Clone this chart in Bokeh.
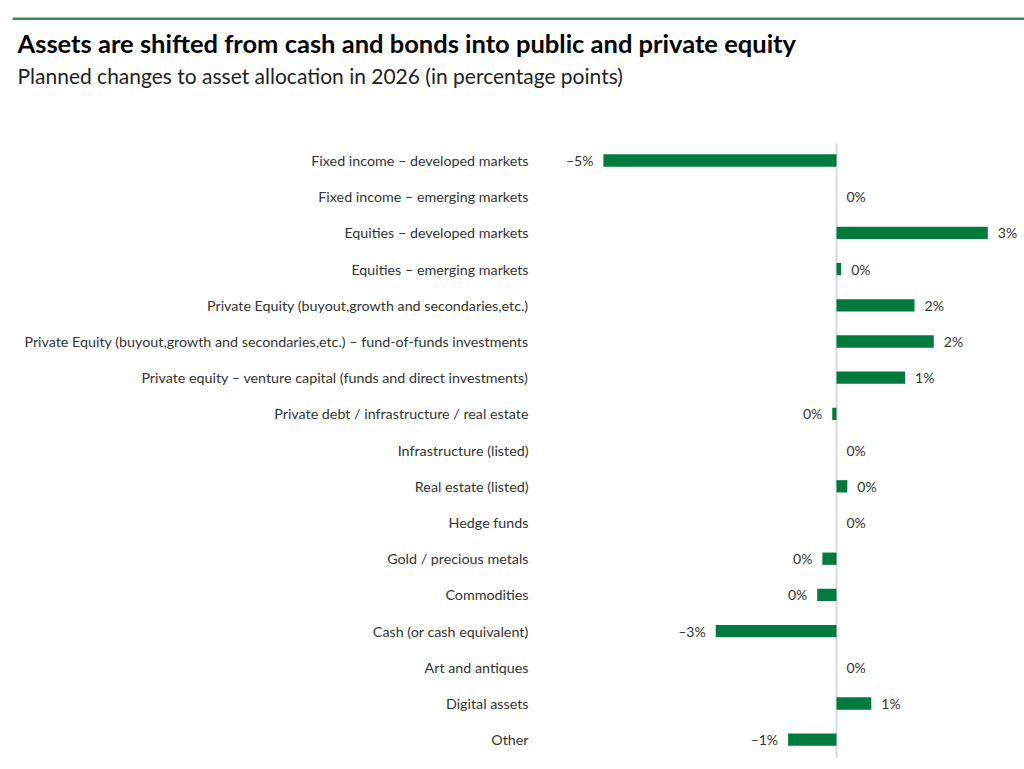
from bokeh.plotting import figure
from bokeh.models import BoxAnnotation, ColumnDataSource, Range1d, Label
from bokeh.embed import file_html
from bokeh.resources import INLINE
from bokeh.core.properties import value

categories = [
    "Fixed income – developed markets",
    "Fixed income – emerging markets",
    "Equities – developed markets",
    "Equities – emerging markets",
    "Private Equity (buyout,growth and secondaries,etc.)",
    "Private Equity (buyout,growth and secondaries,etc.) – fund-of-funds investments",
    "Private equity – venture capital (funds and direct investments)",
    "Private debt / infrastructure / real estate",
    "Infrastructure (listed)",
    "Real estate (listed)",
    "Hedge funds",
    "Gold / precious metals",
    "Commodities",
    "Cash (or cash equivalent)",
    "Art and antiques",
    "Digital assets",
    "Other",
]
changes = [-4.96, 0.0, 3.22, 0.10, 1.66, 2.07, 1.46, -0.09, 0.0, 0.23, 0.0,
           -0.30, -0.41, -2.57, 0.0, 0.74, -1.03]

title_text = "Assets are shifted from cash and bonds into public and private equity"
subtitle_text = "Planned changes to asset allocation in 2026 (in percentage points)"


def fmt(v):
    r = int(round(v))
    return ("–" if r < 0 else "") + f"{abs(r)}%"


labels = [fmt(v) for v in changes]
rows = list(range(len(categories)))

FONT = "Lato"
GREEN = "#007a3d"
W, H = 1024, 769
ZERO_PX = 836      # screen x of the zero line
PX_PER_PT = 47     # pixels per percentage point
FIRST_ROW_PX = 160  # screen y of the first category row
ROW_PX = 36.2      # row pitch


def sx(px):
    return (px - ZERO_PX) / PX_PER_PT


def sy(py):
    return (py - FIRST_ROW_PX) / ROW_PX


p = figure(
    width=W, height=H,
    x_range=Range1d(sx(0), sx(W)),
    y_range=Range1d(sy(H), sy(0)),
    x_axis_location=None, y_axis_location=None,
    output_backend="svg", toolbar_location=None, min_border=0,
)
p.outline_line_color = None
p.xgrid.visible = False
p.ygrid.visible = False
p.background_fill_color = "white"
p.border_fill_color = "white"

# zero line
p.segment(x0=[0], x1=[0], y0=[-0.47], y1=[len(categories) - 0.5],
          line_color="#d9d9d9", line_width=2)

src = ColumnDataSource(dict(row=rows, cat=categories, val=changes, lab=labels))
p.hbar(y="row", right="val", left=0, height=0.34, source=src, fill_color=GREEN, line_color=None)

# category labels (acting as the category axis)
p.text(x=0, y="row", text="cat", source=src, x_offset=-(ZERO_PX - 528), text_align="right",
       text_baseline="middle", text_font=value(FONT), text_font_size="14.3px", text_color="#333333")

pos = [i for i, v in enumerate(changes) if v >= 0]
neg = [i for i, v in enumerate(changes) if v < 0]
src_pos = ColumnDataSource(dict(row=pos, val=[changes[i] for i in pos], lab=[labels[i] for i in pos]))
src_neg = ColumnDataSource(dict(row=neg, val=[changes[i] for i in neg], lab=[labels[i] for i in neg]))
p.text(x="val", y="row", text="lab", source=src_pos, x_offset=10, text_align="left",
       text_baseline="middle", text_font=value(FONT), text_font_size="14px", text_color="#333333")
p.text(x="val", y="row", text="lab", source=src_neg, x_offset=-10, text_align="right",
       text_baseline="middle", text_font=value(FONT), text_font_size="14px", text_color="#333333")

# header
p.add_layout(BoxAnnotation(left=sx(12), right=sx(W), top=sy(17), bottom=sy(19.5),
                           fill_color="#3b8c5a", fill_alpha=1, line_color=None))
p.add_layout(Label(x=sx(17), y=sy(42), text=title_text, text_font=FONT, text_font_style="bold",
                   text_font_size="25.5px", text_color="#000000", text_baseline="alphabetic"))
p.add_layout(Label(x=sx(17), y=sy(75), text=subtitle_text, text_font=FONT,
                   text_font_size="21px", text_color="#222222", text_baseline="alphabetic"))

open("out.html", "w").write(file_html(p, INLINE))
